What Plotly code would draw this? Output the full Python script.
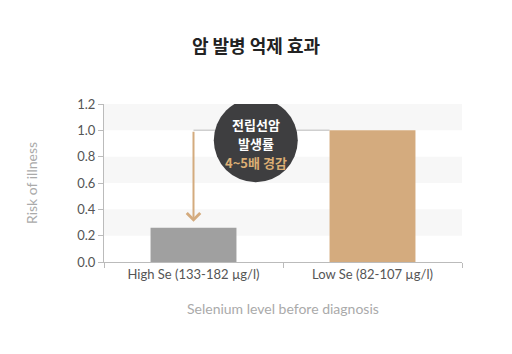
import plotly.graph_objects as go

categories = ["High Se (133-182 µg/l)", "Low Se (82-107 µg/l)"]
risk = [0.26, 1.0]
bar_colors = ["#a0a0a0", "#d4ab7e"]
y_ticks = [0.0, 0.2, 0.4, 0.6, 0.8, 1.0, 1.2]
bands = [(0.2, 0.4), (0.6, 0.8), (1.0, 1.2)]
title = "암 발병 억제 효과"
x_title = "Selenium level before diagnosis"
y_title = "Risk of illness"
bubble_lines = ["전립선암", "발생률", "4~5배 경감"]
bubble_colors = ["#ffffff", "#ffffff", "#dcae74"]

fig = go.Figure()
fig.add_trace(go.Bar(x=categories, y=risk, marker=dict(color=bar_colors, line=dict(width=0)),
                     width=0.48, hoverinfo="skip"))

shapes = []
for lo, hi in bands:
    shapes.append(dict(type="rect", xref="paper", yref="y", x0=0, x1=1, y0=lo, y1=hi,
                       fillcolor="#f7f7f7", line=dict(width=0), layer="below"))
# connector line at the Low Se level
shapes.append(dict(type="line", xref="x", yref="y", x0=0, x1=1 - 0.24, y0=risk[1], y1=risk[1],
                   line=dict(color="#cfcfcf", width=1.5), layer="below"))
# bubble
bx, by = 0.424, 0.925
shapes.append(dict(type="circle", xref="paper", yref="y", xsizemode="pixel", ysizemode="pixel",
                   xanchor=bx, yanchor=by, x0=-42, x1=42, y0=-42, y1=42,
                   fillcolor="#3e3e40", line=dict(width=0)))

annotations = [
    dict(x=0, y=risk[0] + 0.045, ax=0, ay=risk[1], xref="x", yref="y", axref="x", ayref="y",
         showarrow=True, arrowhead=4, arrowsize=1.3, arrowwidth=2, arrowcolor="#d4ab7e", text=""),
    dict(xref="paper", yref="paper", x=0.5, y=-0.36, showarrow=False, text=x_title,
         font=dict(family="Lato", size=14, color="#aaaaaa")),
]
for line, col, shift in zip(bubble_lines, bubble_colors, [16, -3, -22]):
    annotations.append(dict(xref="paper", yref="y", x=bx, y=by, yshift=shift, showarrow=False,
                            text=f"<b>{line}</b>", borderpad=0,
                            font=dict(family="Noto Sans CJK KR", size=13, color=col)))

fig.update_layout(
    width=512, height=354,
    margin=dict(l=104, r=50, t=104, b=92),
    paper_bgcolor="#ffffff", plot_bgcolor="#ffffff",
    showlegend=False,
    title=dict(text=f"<b>{title}</b>", x=0.5, xanchor="center", y=0.867, yanchor="middle",
               font=dict(family="Noto Sans CJK KR", size=18, color="#222222")),
    shapes=shapes, annotations=annotations,
    bargap=0.5,
    xaxis=dict(type="category", tickson="boundaries", ticks="outside", ticklen=5, tickcolor="#bbbbbb",
               showline=True, linecolor="#bbbbbb", linewidth=1, showgrid=False,
               tickfont=dict(family="Lato", size=13, color="#555555")),
    yaxis=dict(range=[0, 1.2], tickvals=y_ticks, tickformat=".1f", ticks="outside", ticklen=5,
               tickcolor="#bbbbbb", showline=True, linecolor="#bbbbbb", linewidth=1,
               showgrid=False, zeroline=False,
               tickfont=dict(family="Lato", size=13, color="#555555"),
               title=dict(text=y_title, standoff=36, font=dict(family="Lato", size=14, color="#aaaaaa"))),
)

fig.write_html("out.html")
